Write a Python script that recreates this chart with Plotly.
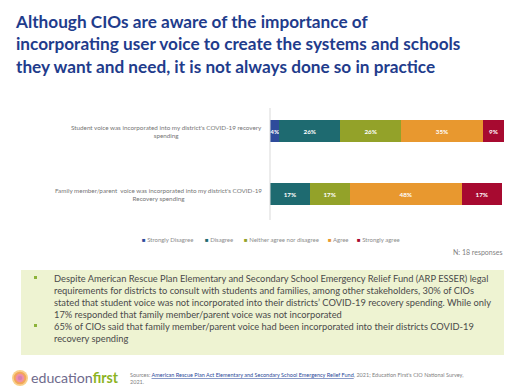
import plotly.graph_objects as go

categories = ["Student voice was incorporated into my district's COVID-19 recovery<br>spending",
              "Family member/parent  voice was incorporated into my district's COVID-19<br>Recovery spending"]
series_names = ["Strongly Disagree", "Disagree", "Neither agree nor disagree", "Agree", "Strongly agree"]
series_values = [
    [4, None],
    [26, 17],
    [26, 17],
    [35, 48],
    [9, 17],
]
series_colors = ["#2E4B9B", "#1E6A70", "#93A229", "#E8982F", "#A70A30"]

title_text = ("Although CIOs are aware of the importance of<br>"
              "incorporating user voice to create the systems and schools<br>"
              "they want and need, it is not always done so in practice")
bullets = [
    "Despite American Rescue Plan Elementary and Secondary School Emergency Relief Fund (ARP ESSER) legal<br>"
    "requirements for districts to consult with students and families, among other stakeholders, 30% of CIOs<br>"
    "stated that student voice was not incorporated into their districts’ COVID-19 recovery spending. While only<br>"
    "17% responded that family member/parent voice was not incorporated",
    "65% of CIOs said that family member/parent voice had been incorporated into their districts COVID-19<br>"
    "recovery spending",
]

W, H = 512, 389
def px(x): return x / W
def py(y): return 1 - y / H

fig = go.Figure()
for name, vals, col in zip(series_names, series_values, series_colors):
    fig.add_trace(go.Bar(
        y=categories, x=vals, name=name, orientation="h",
        marker=dict(color=col, line=dict(width=0)),
        text=[f"{v}%" if v else "" for v in vals],
        textposition="inside", insidetextanchor="middle", textangle=0,
        textfont=dict(family="Lato", size=6.3, color="white", weight="bold"),
        showlegend=False, hoverinfo="skip",
    ))

fig.update_layout(
    width=W, height=H, barmode="stack", bargap=0.65,
    margin=dict(l=0, r=0, t=0, b=0),
    paper_bgcolor="white", plot_bgcolor="white",
    uniformtext=dict(minsize=4, mode="show"),
    xaxis=dict(domain=[px(262), px(496)], range=[0, 100], visible=False, fixedrange=True),
    yaxis=dict(domain=[py(217.5), py(91.5)], categoryorder="array", categoryarray=categories,
               autorange="reversed", showticklabels=False, showgrid=False, zeroline=False),
)

# axis line
fig.add_shape(type="line", xref="paper", yref="paper", x0=px(262), x1=px(262),
              y0=py(212), y1=py(100), line=dict(color="#D9D9D9", width=1))

# category labels
for cat, yc in zip(categories, [123, 186]):
    fig.add_annotation(x=px(256), y=py(yc), xref="paper", yref="paper", text=cat,
                       xanchor="right", yanchor="middle", align="center", showarrow=False,
                       font=dict(family="Lato", size=6.3, color="#767676"))

# title
fig.add_annotation(x=px(5), y=py(1), xref="paper", yref="paper", text=title_text,
                   xanchor="left", yanchor="top", align="left", showarrow=False,
                   font=dict(family="Lato", size=17.2, color="#1F3C8C", weight="bold"))

# legend
leg_x = [132, 195, 234, 318, 347]
for name, col, lx in zip(series_names, series_colors, leg_x):
    fig.add_annotation(x=px(lx), y=py(231), xref="paper", yref="paper",
                       text=f"<span style='color:{col}'>■</span> {name}",
                       xanchor="left", yanchor="middle", showarrow=False,
                       font=dict(family="Lato", size=6, color="#8C8C8C"))

fig.add_annotation(x=px(497), y=py(244), xref="paper", yref="paper", text="N: 18 responses",
                   xanchor="right", yanchor="middle", showarrow=False,
                   font=dict(family="Lato", size=7, color="#7F7F7F"))

# green box
fig.add_shape(type="rect", xref="paper", yref="paper", x0=px(13), x1=px(510),
              y0=py(347), y1=py(262), fillcolor="#EEF3D2", line=dict(width=0), layer="below")
bullet_y = [263, 311]
for txt, by in zip(bullets, bullet_y):
    fig.add_annotation(x=px(44), y=py(by), xref="paper", yref="paper", text=txt,
                       xanchor="left", yanchor="top", align="left", showarrow=False,
                       font=dict(family="Lato", size=9.3, color="#4A4A4A"))
    fig.add_shape(type="rect", xref="paper", yref="paper", x0=px(26), x1=px(29),
                  y0=py(by + 8), y1=py(by + 5), fillcolor="#8DB33A", line=dict(width=0))

# logo
cx, cy = 12, 370
for r, c in [(8, "#F9D08A"), (6.3, "#F2A65A"), (4.3, "#EE8FA8"), (2.2, "#D77FB0")]:
    fig.add_shape(type="circle", xref="paper", yref="paper", x0=px(cx - r), x1=px(cx + r),
                  y0=py(cy + r), y1=py(cy - r), fillcolor=c, line=dict(width=0))
fig.add_annotation(x=px(21), y=py(369), xref="paper", yref="paper",
                   text="<span style='color:#6E6A8C'>education</span><span style='color:#8CB31F'><b>first</b></span>",
                   xanchor="left", yanchor="middle", showarrow=False,
                   font=dict(family="Lato", size=14.2))

fig.add_annotation(x=px(120), y=py(362), xref="paper", yref="paper",
                   text=("Sources: <span style='color:#2A4A9A'><u>American Rescue Plan Act Elementary and Secondary School Emergency Relief Fund</u></span>"
                         ", 2021; Education First's CIO National Survey,<br>2021."),
                   xanchor="left", yanchor="top", align="left", showarrow=False,
                   font=dict(family="Lato", size=5.5, color="#7F7F7F"))

fig.write_html("out.html")
